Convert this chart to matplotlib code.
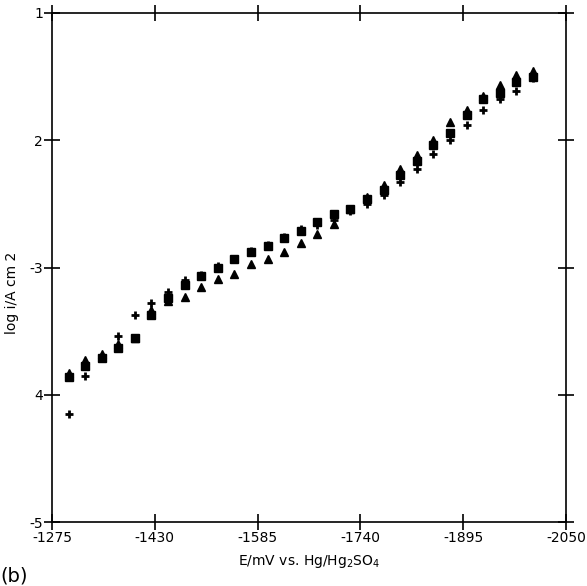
import numpy as np
import matplotlib.pyplot as plt

# potential, mV vs Hg/Hg2SO4
E = [-1300, -1325, -1350, -1375, -1400, -1425, -1450, -1475, -1500, -1525,
     -1550, -1575, -1600, -1625, -1650, -1675, -1700, -1725, -1750, -1775,
     -1800, -1825, -1850, -1875, -1900, -1925, -1950, -1975, -2000]

# log i for the three runs
log_i_sq = [-3.86, -3.77, -3.71, -3.63, -3.55, -3.37, -3.24, -3.14, -3.07, -3.00,
            -2.93, -2.88, -2.83, -2.77, -2.71, -2.64, -2.58, -2.54, -2.46, -2.39,
            -2.27, -2.16, -2.04, -1.94, -1.80, -1.68, -1.63, -1.54, -1.50]
log_i_tri = [-3.83, -3.73, -3.68, -3.60, -3.55, -3.33, -3.26, -3.23, -3.15, -3.09,
             -3.05, -2.97, -2.93, -2.88, -2.81, -2.74, -2.66, -2.54, -2.45, -2.35,
             -2.23, -2.12, -2.00, -1.86, -1.76, -1.65, -1.57, -1.49, -1.46]
log_i_plus = [-4.15, -3.85, -3.70, -3.54, -3.37, -3.28, -3.19, -3.10, -3.06, -2.99,
              -2.93, -2.87, -2.82, -2.76, -2.70, -2.67, -2.63, -2.56, -2.50, -2.43,
              -2.33, -2.23, -2.11, -2.00, -1.88, -1.76, -1.68, -1.61, -1.51]

xticks = [-1275, -1430, -1585, -1740, -1895, -2050]
yticks = [-1, -2, -3, -4, -5]
ytick_labels = ['1', '2', '-3', '4', '-5']

fig = plt.figure(figsize=(5.87, 5.86), dpi=100)
ax = fig.add_axes([0.0886, 0.109, 0.8756, 0.869])

ax.plot(E, log_i_sq, 's', color='black', ms=5.5, ls='none')
ax.plot(E, log_i_tri, '^', color='black', ms=6, ls='none')
ax.plot(E, log_i_plus, '+', color='black', ms=5.5, mew=2, ls='none')

ax.set_xlim(-1275, -2050)
ax.set_ylim(-5, -1)
ax.set_xticks(xticks)
ax.set_xticklabels([str(t) for t in xticks])
ax.set_yticks(yticks)
ax.set_yticklabels(ytick_labels)

for s in ax.spines.values():
    s.set_linewidth(1.2)
ax.tick_params(direction='inout', length=11, width=1.2, top=True, right=True,
               labelsize=10, pad=1)

ax.set_xlabel(r'E/mV vs. Hg/Hg$_2$SO$_4$', fontsize=10, labelpad=6)
ax.set_ylabel('log i/A cm 2', fontsize=10)
ax.yaxis.set_label_coords(-0.065, 0.45)

fig.text(0.0, 0.008, '(b)', fontsize=14)

fig.savefig('out.png', dpi=100)
plt.close()
